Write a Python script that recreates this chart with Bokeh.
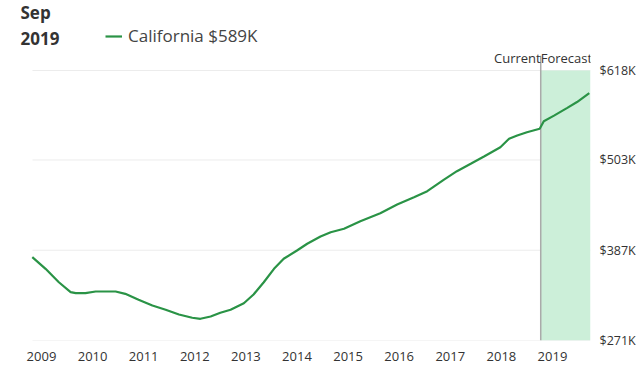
from bokeh.plotting import figure
from bokeh.models import FixedTicker, Label, Legend, LegendItem, Range1d
from bokeh.embed import file_html
from bokeh.resources import INLINE

# ---- data (decimal year, home value in $K) ----
years = [2008.82, 2009.08, 2009.34, 2009.57, 2009.67, 2009.86, 2010.06, 2010.45, 2010.64,
         2010.90, 2011.17, 2011.43, 2011.69, 2011.95, 2012.11, 2012.31, 2012.50, 2012.70,
         2012.96, 2013.15, 2013.35, 2013.55, 2013.74, 2014.00, 2014.20, 2014.46, 2014.66,
         2014.92, 2015.24, 2015.63, 2015.96, 2016.29, 2016.55, 2016.87, 2017.13, 2017.40,
         2017.66, 2017.98, 2018.15, 2018.31, 2018.50, 2018.75, 2018.83, 2019.03, 2019.29,
         2019.48, 2019.72]
values = [378.1, 363.1, 345.9, 333.1, 331.8, 331.8, 334.0, 334.0, 331.0,
          323.3, 316.0, 310.5, 304.4, 300.2, 298.9, 301.8, 306.6, 310.5,
          318.9, 330.1, 345.9, 363.1, 376.0, 386.7, 395.3, 404.7, 410.2,
          414.6, 424.3, 434.6, 445.8, 455.2, 462.9, 477.5, 488.6, 498.1,
          507.5, 519.4, 530.2, 534.5, 538.7, 543.1, 552.8, 560.0, 570.0,
          577.5, 589.0]

data_start = 2008.824
forecast_start = 2018.77
forecast_end = 2019.744

y_ticks = [271, 387, 503, 618]
y_tick_labels = ["$271K", "$387K", "$503K", "$618K"]
x_ticks = [2009, 2010, 2011, 2012, 2013, 2014, 2015, 2016, 2017, 2018, 2019]
x_tick_labels = [str(y) for y in x_ticks]

header_month = "Sep"
header_year = "2019"
series_label = "California $589K"

GREEN = "#2a9346"
FONT = "Open Sans"
TXT = "#333333"

p = figure(width=636, height=374, output_backend="svg", toolbar_location=None,
           x_range=Range1d(2008.511, forecast_end), y_range=Range1d(271, 708),
           y_axis_location="right",
           min_border_left=16, min_border_right=46, min_border_top=0, min_border_bottom=34)
p.frame_width = 574
p.frame_height = 340
p.outline_line_color = None
p.background_fill_color = "white"

# horizontal gridlines at the value ticks, spanning the data area
p.segment(x0=[data_start] * len(y_ticks), x1=[forecast_end] * len(y_ticks),
          y0=y_ticks, y1=y_ticks, line_color="#ececec", line_width=1)

# forecast band
p.quad(left=[forecast_start], right=[forecast_end], bottom=[271], top=[618],
       fill_color="#ccefd9", line_color=None)
p.segment(x0=[forecast_start], x1=[forecast_start], y0=[271], y1=[637],
          line_color="#aaaaaa", line_width=1.5)

r = p.line(years, values, line_color=GREEN, line_width=2.2)

# axes
p.xaxis.ticker = FixedTicker(ticks=x_ticks)
p.xaxis.major_label_overrides = {t: l for t, l in zip(x_ticks, x_tick_labels)}
p.yaxis.ticker = FixedTicker(ticks=y_ticks)
p.yaxis.major_label_overrides = {t: l for t, l in zip(y_ticks, y_tick_labels)}
for ax in (p.xaxis, p.yaxis):
    ax.axis_line_color = None
    ax.major_tick_line_color = None
    ax.minor_tick_line_color = None
    ax.major_tick_out = 0
    ax.major_tick_in = 0
    ax.major_label_text_font = FONT
    ax.major_label_text_color = TXT
p.xaxis.major_label_text_font_size = "13px"
p.yaxis.major_label_text_font_size = "12.5px"
p.xaxis.major_label_standoff = 11
p.yaxis.major_label_standoff = 9
p.xgrid.visible = False
p.ygrid.visible = False

# header
p.add_layout(Label(x=4, y=328, x_units="screen", y_units="screen", text=header_month,
                   text_font=FONT, text_font_size="17px", text_font_style="bold",
                   text_color=TXT, text_baseline="middle"))
p.add_layout(Label(x=4, y=302, x_units="screen", y_units="screen", text=header_year,
                   text_font=FONT, text_font_size="17px", text_font_style="bold",
                   text_color=TXT, text_baseline="middle"))

legend = Legend(items=[LegendItem(label=series_label, renderers=[r])],
                location=(89, 293), border_line_color=None, background_fill_alpha=0,
                padding=0, margin=0, glyph_width=17, glyph_height=20, label_height=20,
                label_standoff=6,
                label_text_font=FONT, label_text_font_size="17px", label_text_color="#444444")
p.add_layout(legend)

p.add_layout(Label(x=forecast_start, y=634.7, text="Current", text_align="right",
                   text_baseline="middle", text_font=FONT, text_font_size="13px",
                   text_color=TXT))
p.add_layout(Label(x=forecast_start, y=634.7, text="Forecast", text_align="left",
                   text_baseline="middle", text_font=FONT, text_font_size="13px",
                   text_color=TXT))

open("out.html", "w").write(file_html(p, INLINE))
